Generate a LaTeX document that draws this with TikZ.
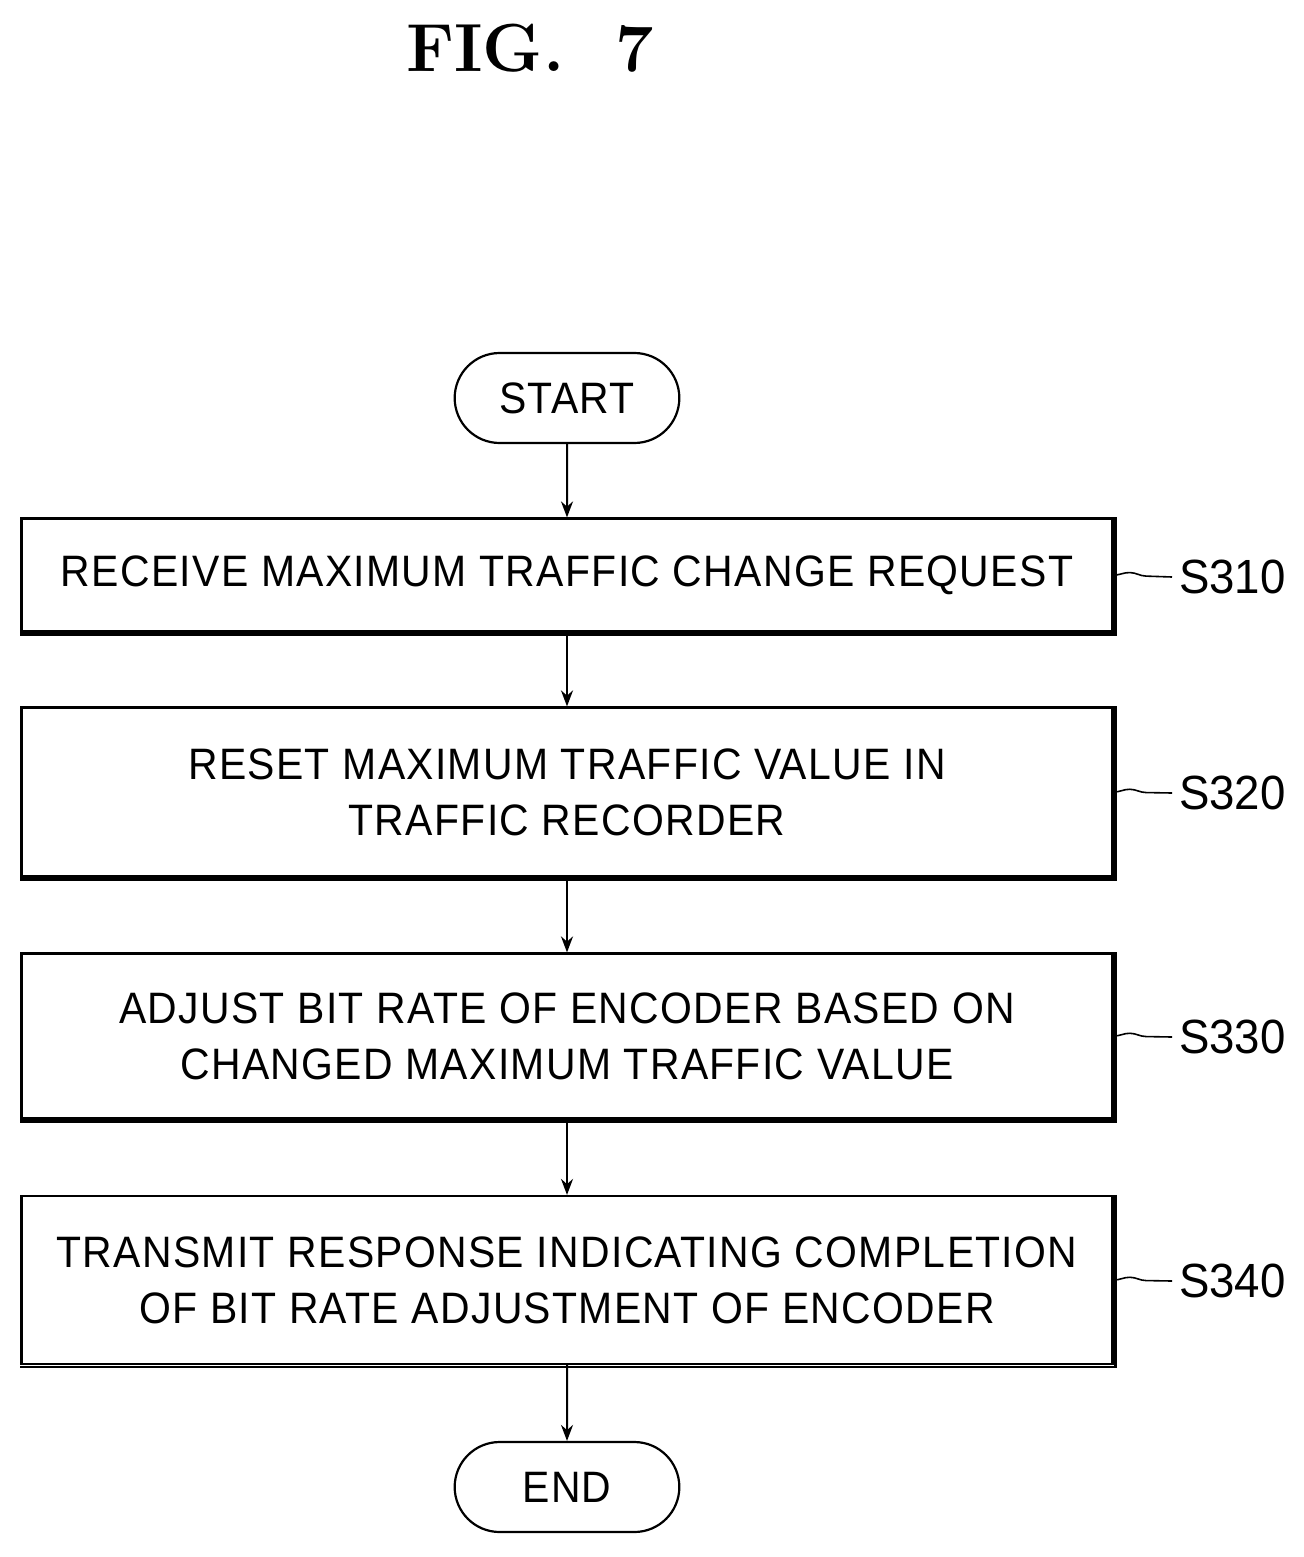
\documentclass[tikz,border=0pt]{standalone}
\usepackage{fontspec}
\setsansfont{Liberation Sans}[FakeStretch=0.93, LetterSpace=3]
\newfontfamily\tagfont{Liberation Sans}[FakeStretch=0.95]
\usetikzlibrary{arrows.meta, positioning, shapes.misc, decorations.pathmorphing}
\begin{document}
\begin{tikzpicture}[x=0.5pt, y=-0.5pt,
  stepbox/.style={draw, line width=1.1pt, minimum width=545.5pt, align=center,
    font=\sffamily\fontsize{22}{28}\selectfont, inner sep=0pt},
  term/.style={draw, line width=1.1pt, rounded rectangle, minimum width=119pt,
    minimum height=45pt, font=\sffamily\fontsize{22}{28}\selectfont},
  tag/.style={font=\tagfont\fontsize{24}{28}\selectfont, anchor=west},
  ->/.style={-{Stealth[length=8pt, width=6pt]}, line width=1pt},
  wave/.style={decorate, decoration={snake, amplitude=1.5pt, segment length=26pt}, line width=0.8pt}]
  \useasboundingbox (0,0) rectangle (1303,1557);
  \node[font=\bfseries\fontsize{34}{40}\selectfont] (title) at (530,48) {FIG.\ \ 7};
  \node[term] (start) at (567,398) {START};
  \node[stepbox, minimum height=56.5pt] (s310) at (567,575) {RECEIVE MAXIMUM TRAFFIC CHANGE REQUEST};
  \node[stepbox, minimum height=84.5pt] (s320) at (567,792) {RESET MAXIMUM TRAFFIC VALUE IN\\TRAFFIC RECORDER};
  \node[stepbox, minimum height=82.5pt] (s330) at (567,1036) {ADJUST BIT RATE OF ENCODER BASED ON\\CHANGED MAXIMUM TRAFFIC VALUE};
  \node[stepbox, minimum height=84pt] (s340) at (567,1280) {TRANSMIT RESPONSE INDICATING COMPLETION\\OF BIT RATE ADJUSTMENT OF ENCODER};
  \node[term] (end) at (567,1487) {END};
  % shadows
  \foreach \b in {s310, s320, s330, s340}
    \draw[line width=1.2pt] ([xshift=1pt]\b.north east) -- ([shift={(1pt,-1pt)}]\b.south east) -- ([yshift=-1pt]\b.south west);
  % step tags
  \node[tag] (t310) at (1172,577) {S310};
  \node[tag] (t320) at (1172,793) {S320};
  \node[tag] (t330) at (1172,1037) {S330};
  \node[tag] (t340) at (1172,1281) {S340};
  \draw[wave] (s310.east) -- (t310.west);
  \draw[wave] (s320.east) -- (t320.west);
  \draw[wave] (s330.east) -- (t330.west);
  \draw[wave] (s340.east) -- (t340.west);
  % flow
  \draw[->] (start) -- (s310);
  \draw[->] (s310) -- (s320);
  \draw[->] (s320) -- (s330);
  \draw[->] (s330) -- (s340);
  \draw[->] (s340) -- (end);
\end{tikzpicture}
\end{document}
